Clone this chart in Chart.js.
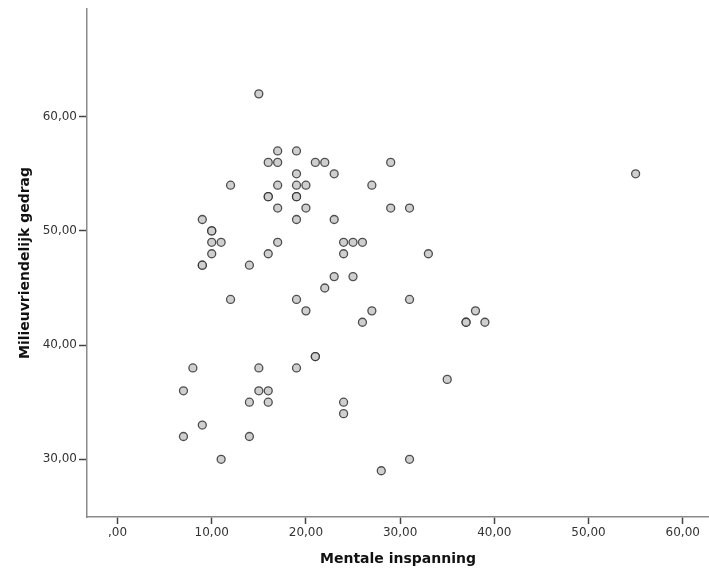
<!DOCTYPE html>
<html>
<head>
<meta charset="utf-8">
<script src="https://cdn.jsdelivr.net/npm/chart.js@4/dist/chart.umd.min.js"></script>
<style>
  html, body { margin: 0; padding: 0; background: #fff; }
  #wrap { width: 709px; height: 578px; position: relative; }
</style>
</head>
<body>
<div id="wrap"><canvas id="scatterChart"></canvas></div>
<script>
// Mentale inspanning (x) vs Milieuvriendelijk gedrag (y), one entry per respondent
const mentaleInspanning = [
  15, 55, 17, 19, 16, 17, 21, 22, 29, 19, 23, 12, 17, 19, 20, 27,
  16, 16, 19, 19, 17, 20, 29, 31, 9, 19, 23, 10, 10, 10, 11, 17,
  24, 25, 26, 10, 16, 24, 33, 9, 9, 14, 23, 25, 22, 12, 19, 31,
  20, 27, 38, 26, 37, 37, 39, 21, 21, 8, 15, 19, 35, 7, 15, 16,
  14, 16, 24, 24, 9, 7, 14, 11, 31, 28
];
const milieuGedrag = [
  62, 55, 57, 57, 56, 56, 56, 56, 56, 55, 55, 54, 54, 54, 54, 54,
  53, 53, 53, 53, 52, 52, 52, 52, 51, 51, 51, 50, 50, 49, 49, 49,
  49, 49, 49, 48, 48, 48, 48, 47, 47, 47, 46, 46, 45, 44, 44, 44,
  43, 43, 43, 42, 42, 42, 42, 39, 39, 38, 38, 38, 37, 36, 36, 36,
  35, 35, 35, 34, 33, 32, 32, 30, 30, 29
];

const xTicks = [0, 10, 20, 30, 40, 50, 60];
const yTicks = [30, 40, 50, 60];

const points = mentaleInspanning.map((x, i) => ({ x: x, y: milieuGedrag[i] }));

// SPSS style: two decimals, comma, no leading zero for 0
function fmt(v) {
  let s = Number(v).toFixed(2).replace('.', ',');
  if (s === '0,00') s = ',00';
  return s;
}

const tickFont = { family: 'DejaVu Sans', size: 12 };
const titleFont = { family: 'DejaVu Sans', size: 14, weight: 'bold' };

new Chart(document.getElementById('scatterChart'), {
  type: 'scatter',
  data: {
    datasets: [{
      data: points,
      pointRadius: 4,
      pointHoverRadius: 4,
      pointBorderWidth: 1.3,
      backgroundColor: '#cfcfcf',
      borderColor: 'rgba(35,35,35,0.78)'
    }]
  },
  options: {
    responsive: true,
    maintainAspectRatio: false,
    animation: false,
    layout: { autoPadding: false, padding: { top: 9, right: 0, left: 0, bottom: 0 } },
    plugins: { legend: { display: false }, tooltip: { enabled: false } },
    scales: {
      x: {
        type: 'linear',
        min: -3.24,
        max: 62.79,
        afterBuildTicks: (axis) => { axis.ticks = xTicks.map(v => ({ value: v })); },
        afterFit: (axis) => { axis.height = 61; axis.paddingLeft = 0; axis.paddingRight = 0; },
        grid: { drawOnChartArea: false, drawTicks: true, tickLength: 7, tickColor: '#444', tickWidth: 1.5 },
        border: { display: true, color: '#8a8a8a', width: 1.5 },
        ticks: { font: tickFont, color: '#333', padding: 2, maxRotation: 0, callback: (v) => fmt(v) },
        title: { display: true, text: 'Mentale inspanning', font: titleFont, color: '#111', padding: { top: 0, bottom: 10 } }
      },
      y: {
        type: 'linear',
        min: 24.95,
        max: 69.43,
        afterBuildTicks: (axis) => { axis.ticks = yTicks.map(v => ({ value: v })); },
        afterFit: (axis) => { axis.width = 87; axis.paddingTop = 0; axis.paddingBottom = 0; },
        grid: { drawOnChartArea: false, drawTicks: true, tickLength: 8, tickColor: '#444', tickWidth: 1.5 },
        border: { display: true, color: '#8a8a8a', width: 1.5 },
        ticks: { font: tickFont, color: '#333', padding: 2, callback: (v) => fmt(v) },
        title: { display: true, text: 'Milieuvriendelijk gedrag', font: titleFont, color: '#111', padding: { top: 17, bottom: 0 } }
      }
    }
  }
});
</script>
</body>
</html>
